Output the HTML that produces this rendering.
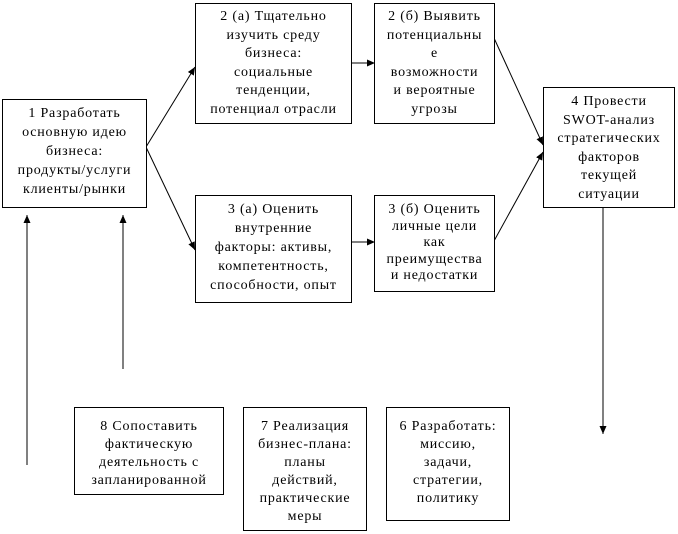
<!DOCTYPE html>
<html><head><meta charset="utf-8"><style>
body{margin:0;width:678px;height:534px;background:#fff;position:relative;overflow:hidden;font-family:"Liberation Serif","DejaVu Serif",serif;font-size:14px;letter-spacing:0.8px;color:#000}
.b{position:absolute;border:1px solid #000;box-sizing:border-box;text-align:center;background:#fff;padding-top:4px;line-height:19px;white-space:nowrap}
svg{position:absolute;left:0;top:0}
</style></head><body>
<svg width="678" height="534" viewBox="0 0 678 534">
<defs><marker id="a" markerWidth="9" markerHeight="9" refX="8" refY="4.5" orient="auto" markerUnits="userSpaceOnUse"><path d="M0,1 L8,4.5 L0,8 z" fill="#000"/></marker></defs>
<g stroke="#000" stroke-width="1" fill="none">
<line x1="146" y1="147" x2="195" y2="67" marker-end="url(#a)"/>
<line x1="146" y1="147" x2="195" y2="250" marker-end="url(#a)"/>
<line x1="351" y1="63" x2="375" y2="63" marker-end="url(#a)"/>
<line x1="351" y1="242" x2="375" y2="242" marker-end="url(#a)"/>
<line x1="494" y1="38" x2="543" y2="145" marker-end="url(#a)"/>
<line x1="494" y1="241" x2="543" y2="152" marker-end="url(#a)"/>
<line x1="603" y1="207" x2="603" y2="434" marker-end="url(#a)"/>
<line x1="27" y1="465" x2="27" y2="215" marker-end="url(#a)"/>
<line x1="123" y1="369" x2="123" y2="215" marker-end="url(#a)"/>
</g></svg>
<div class="b" style="left:2px;top:99px;width:145px;height:109px">1 Разработать<br>основную идею<br>бизнеса:<br>продукты/услуги<br>клиенты/рынки</div>
<div class="b" style="left:195px;top:3px;width:157px;height:121px;line-height:18.5px">2 (а) Тщательно<br>изучить среду<br>бизнеса:<br>социальные<br>тенденции,<br>потенциал отрасли</div>
<div class="b" style="left:195px;top:195px;width:157px;height:108px">3 (а) Оценить<br>внутренние<br>факторы: активы,<br>компетентность,<br>способности, опыт</div>
<div class="b" style="left:374px;top:3px;width:121px;height:121px;line-height:18.5px">2 (б) Выявить<br>потенциальны<br>е<br>возможности<br>и вероятные<br>угрозы</div>
<div class="b" style="left:374px;top:195px;width:121px;height:97px;line-height:16.5px;padding-top:6px">3 (б) Оценить<br>личные цели<br>как<br>преимущества<br>и недостатки</div>
<div class="b" style="left:543px;top:87px;width:132px;height:121px;line-height:18.5px;padding-top:5px">4 Провести<br>SWOT-анализ<br>стратегических<br>факторов<br>текущей<br>ситуации</div>
<div class="b" style="left:74px;top:407px;width:150px;height:88px;line-height:18px;padding-top:10px">8 Сопоставить<br>фактическую<br>деятельность с<br>запланированной</div>
<div class="b" style="left:243px;top:407px;width:124px;height:124px;line-height:18px;padding-top:10px">7 Реализация<br>бизнес-плана:<br>планы<br>действий,<br>практические<br>меры</div>
<div class="b" style="left:386px;top:407px;width:124px;height:114px;line-height:18px;padding-top:10px">6 Разработать:<br>миссию,<br>задачи,<br>стратегии,<br>политику</div>
</body></html>
